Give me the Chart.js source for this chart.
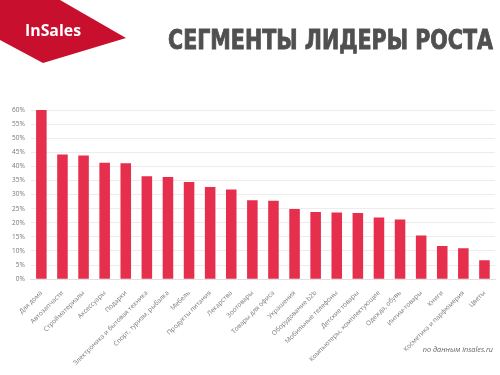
<!DOCTYPE html>
<html>
<head>
<meta charset="utf-8">
<script src="https://cdn.jsdelivr.net/npm/chart.js@4"></script>
<style>
  html, body { margin: 0; padding: 0; background: #fff; }
  #wrap { position: relative; width: 500px; height: 375px; overflow: hidden; }
  #chart { position: absolute; left: 0; top: 0; }
  #deco { position: absolute; left: 0; top: 0; }
</style>
</head>
<body>
<div id="wrap">
  <canvas id="chart" width="500" height="375"></canvas>
  <svg id="deco" width="500" height="375">
    <polygon points="0,0 60,0 126,38 43,63 0,40" fill="#c8102e"/>
    <text x="25" y="36" font-family="Open Sans, sans-serif" font-weight="bold" font-size="16" fill="#fff" textLength="56" lengthAdjust="spacingAndGlyphs">InSales</text>
    <text x="168" y="49" font-family="DejaVu Sans, sans-serif" font-weight="bold" font-size="26" fill="#505050" stroke="#505050" stroke-width="0.9" textLength="325" lengthAdjust="spacingAndGlyphs">СЕГМЕНТЫ ЛИДЕРЫ РОСТА</text>
    <text x="493" y="352" text-anchor="end" font-family="Open Sans, sans-serif" font-style="italic" font-size="7.3" fill="#666">по данным insales.ru</text>
  </svg>
</div>
<script>
const categories = [
    'Для дома', 'Автозапчасти', 'Стройматериалы', 'Аксессуары', 'Подарки',
    'Электроника и бытовая техника', 'Спорт, туризм, рыбалка', 'Мебель',
    'Продукты питания', 'Лекарства', 'Зоотовары', 'Товары для офиса',
    'Украшения', 'Оборудование b2b', 'Мобильные телефоны', 'Детские товары',
    'Компьютеры, комплектующие', 'Одежда, обувь', 'Интим-товары', 'Книги',
    'Косметика и парфюмерия', 'Цветы'
];
const growth = [
    60.0, 44.2, 43.9, 41.3, 41.1, 36.5, 36.2, 34.5, 32.7, 31.8, 28.0,
    27.8, 24.9, 23.8, 23.6, 23.5, 21.9, 21.2, 15.5, 11.8, 11.0, 6.7
];
const yTicks = [0, 5, 10, 15, 20, 25, 30, 35, 40, 45, 50, 55, 60];

const ctx = document.getElementById('chart').getContext('2d');

new Chart(ctx, {
    type: 'bar',
    data: {
        labels: categories,
        datasets: [{
            data: growth,
            backgroundColor: '#e62e4d',
            borderWidth: 0,
            barPercentage: 0.5,
            categoryPercentage: 1
        }]
    },
    options: {
        responsive: false,
        animation: false,
        layout: { padding: { left: 6, right: 5, top: 110, bottom: 6 } },
        plugins: { legend: { display: false }, tooltip: { enabled: false } },
        scales: {
            y: {
                min: yTicks[0],
                max: yTicks[yTicks.length - 1],
                afterBuildTicks: axis => { axis.ticks = yTicks.map(v => ({ value: v })); },
                ticks: {
                    callback: v => v + '%',
                    font: { family: 'Open Sans', size: 6.5 },
                    color: '#777',
                    padding: 6
                },
                grid: { color: '#ececec', drawTicks: false },
                border: { display: false }
            },
            x: {
                ticks: {
                    minRotation: 45,
                    maxRotation: 45,
                    autoSkip: false,
                    font: { family: 'Open Sans', size: 6.5 },
                    color: '#777',
                    padding: 2
                },
                grid: { display: false },
                border: { color: '#e0e0e0' }
            }
        }
    }
});
</script>
</body>
</html>
